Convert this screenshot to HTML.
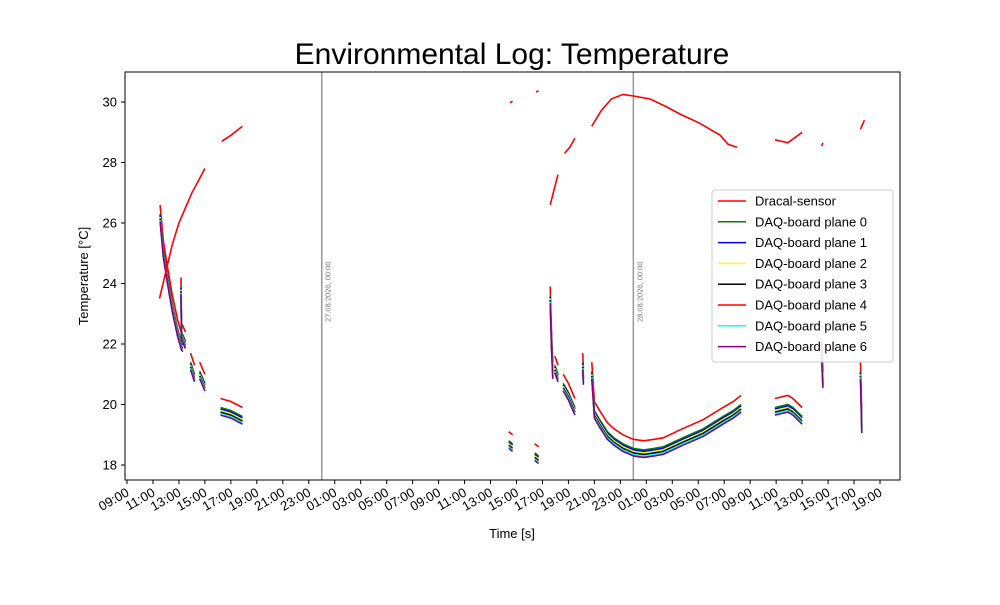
<!DOCTYPE html>
<html><head><meta charset="utf-8"><style>
body{margin:0;background:#fff;}
svg{font-family:"Liberation Sans","DejaVu Sans",sans-serif;}
</style></head><body>
<svg id="chart" width="1000" height="600" viewBox="0 0 1000 600">
<rect x="0" y="0" width="1000" height="600" fill="#fff"/>
<text x="512" y="64" text-anchor="middle" font-size="30">Environmental Log: Temperature</text>
<g id="plot"></g>
<rect x="125" y="72" width="775" height="408" fill="none" stroke="#000" stroke-width="1"/>
<text transform="translate(88,276) rotate(-90)" text-anchor="middle" font-size="13">Temperature [°C]</text>
<text x="512" y="538" text-anchor="middle" font-size="13">Time [s]</text>
<g id="legend"></g>
</svg>
<script>
const yTicks=[18,20,22,24,26,28,30];
const xTickHours=[];for(let h=9;h<=67;h+=2)xTickHours.push(h);
const markerHours=[24,48];
const markerLabels=["27.08.2020, 00:00","28.08.2020, 00:00"];
const seriesNames=["Dracal-sensor","DAQ-board plane 0","DAQ-board plane 1","DAQ-board plane 2","DAQ-board plane 3","DAQ-board plane 4","DAQ-board plane 5","DAQ-board plane 6"];
const seriesColors=["#ff0000","#008000","#0000ff","#ffff00","#000000","#ff0000","#00ffff","#800080"];
const planeOffsets=[0.1,0.05,0,-0.05,0.4,-0.1,-0.15];
// Dracal segments: [hour, temp]
const dracalSegments=[
 [[11.5,23.5],[12,24.4],[12.5,25.3],[13,26.0],[13.5,26.5],[14,27.0],[14.5,27.4],[15,27.8]],
 [[16.3,28.7],[17,28.9],[17.9,29.2]],
 [[38.5,29.98],[38.7,30.02]],
 [[40.5,30.33],[40.7,30.37]],
 [[41.6,26.6],[41.9,27.1],[42.2,27.6]],
 [[42.7,28.3],[43.1,28.5],[43.5,28.8]],
 [[44.8,29.2],[45.5,29.7],[46.3,30.1],[47.2,30.25],[48,30.2],[49.3,30.1],[50.5,29.85],[51.6,29.6],[53.1,29.3],[54.7,28.9],[55.3,28.6],[56,28.5]],
 [[58.9,28.75],[59.9,28.65],[61,29.0]],
 [[62.5,28.55],[62.6,28.65]],
 [[65.5,29.1],[65.8,29.4]]
];
// DAQ base temperature segments
const daqSegments=[
 [[11.55,26.2],[11.8,25.0],[12.1,24.2],[12.5,23.2],[12.9,22.4],[13.2,21.95],[13.3,21.9]],
 [[13.16,23.8],[13.2,22.3],[13.5,22.0]],
 [[13.9,21.3],[14.2,20.9]],
 [[14.6,21.0],[15.0,20.6]],
 [[16.2,19.8],[17,19.7],[17.9,19.5]],
 [[38.4,18.7],[38.7,18.6]],
 [[40.4,18.3],[40.7,18.2]],
 [[41.6,23.5],[41.7,22.0],[41.8,21.0]],
 [[41.95,21.2],[42.2,20.9]],
 [[42.6,20.6],[43.0,20.3],[43.5,19.8]],
 [[44.1,21.3],[44.15,20.8]],
 [[44.8,21.0],[45.0,19.7],[45.4,19.4],[46,19.0],[46.5,18.8],[47.2,18.6],[48,18.45],[48.8,18.4],[49.6,18.45],[50.3,18.5],[51.8,18.8],[53.4,19.1],[54.9,19.5],[55.7,19.7],[56.3,19.9]],
 [[58.9,19.8],[59.9,19.9],[60.3,19.8],[61,19.5]],
 [[62.5,21.7],[62.6,20.7]],
 [[65.5,21.0],[65.6,19.2]]
];
const X0=125,X1=900,Y0=72,Y1=480;
const xs=h=>127+(h-9)*12.983;
const ys=t=>102+(30-t)*30.25;
const NS="http://www.w3.org/2000/svg";
const plot=document.getElementById('plot');
function mk(tag,attrs,parent){const e=document.createElementNS(NS,tag);for(const k in attrs)e.setAttribute(k,attrs[k]);parent.appendChild(e);return e;}
yTicks.forEach(t=>{
 const l=mk('line',{x1:X0-4,x2:X0,y1:ys(t),y2:ys(t),stroke:'#000'},plot);
 
 
 const tx=mk('text',{x:X0-8,y:ys(t)+4.5,'text-anchor':'end','font-size':13},plot);
 tx.textContent=t;
 
 
});
xTickHours.forEach(h=>{
 const x=xs(h);
 const l=mk('line',{x1:x,x2:x,y1:Y1,y2:Y1+4,stroke:'#000'},plot);
 
 
 const hh=String(h%24).padStart(2,'0')+':00';
 const tx=mk('text',{transform:`translate(${x+3},${Y1+15}) rotate(-30)`,'text-anchor':'end','font-size':13},plot);
 tx.textContent=hh;
 
 
});
markerHours.forEach((h,i)=>{
 const x=xs(h);
 const l=mk('line',{x1:x,x2:x,y1:Y0,y2:Y1,stroke:'#999','stroke-width':1.5},plot);
 
 
 const tx=mk('text',{transform:`translate(${x+9},322) rotate(-90)`,'font-size':7.5,fill:'#777'},plot);
 tx.textContent=markerLabels[i];
 
 
});
function drawSeg(seg,off,color,name){
 const p=mk('polyline',{points:seg.map(d=>xs(d[0]).toFixed(1)+','+ys(d[1]+off).toFixed(1)).join(' '),fill:'none',stroke:color,'stroke-width':1.6},plot);
 
 
}
const order=[5,1,2,3,4,6,7];
order.forEach(si=>{daqSegments.forEach(s=>drawSeg(s,planeOffsets[si-1],seriesColors[si],'daq-plane-'+(si-1)+'-line'));});
dracalSegments.forEach(s=>drawSeg(s,0,seriesColors[0],'dracal-sensor-line'));
const lg=document.getElementById('legend');
const box=mk('rect',{x:712,y:190,width:181,height:172,rx:3,fill:'#fff','fill-opacity':0.85,stroke:'#ccc'},lg);


seriesNames.forEach((n,i)=>{
 const y=201+i*20.8;
 const l=mk('line',{x1:718,x2:746,y1:y,y2:y,stroke:seriesColors[i],'stroke-width':1.5},lg);
 
 
 const t=mk('text',{x:755,y:y+4.5,'font-size':13},lg);
 t.textContent=n;
 
 
});
</script>
</body></html>
